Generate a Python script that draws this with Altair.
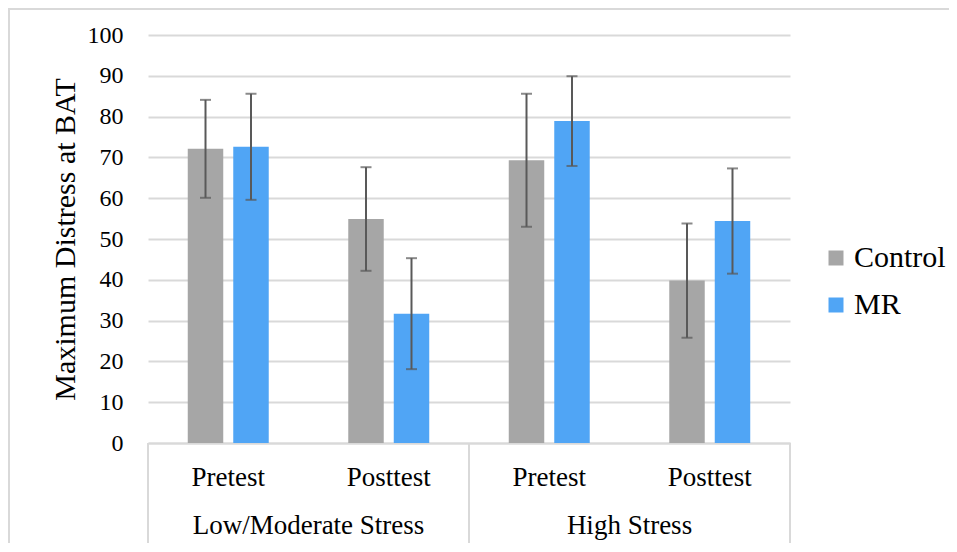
import altair as alt
import pandas as pd

groups = ["Low/Moderate Stress", "High Stress"]
times = ["Pretest", "Posttest"]
series = ["Control", "MR"]
control_mean = [72.1, 54.9, 69.3, 39.8]
mr_mean = [72.6, 31.7, 78.9, 54.4]
control_err = [12.0, 12.7, 16.3, 14.0]
mr_err = [13.0, 13.6, 11.0, 12.9]
y_ticks = list(range(0, 101, 10))

keys = [f"{g}|{t}" for g in groups for t in times]
rows = []
for name, means, errs in [("Control", control_mean, control_err), ("MR", mr_mean, mr_err)]:
    for k, m, e in zip(keys, means, errs):
        g, t = k.split("|")
        rows.append({"key": k, "group": g, "time": t, "series": name,
                     "mean": m, "lo": m - e, "hi": m + e})
df = pd.DataFrame(rows)

FONT = "Liberation Serif"
GRID = "#D9D9D9"
ERR = "#595959"
W, H = 642, 408
YTITLE = "Maximum Distress at BAT"

xscale = alt.Scale(domain=keys, paddingInner=0, paddingOuter=0)
offscale = alt.Scale(domain=series, paddingInner=0.22, paddingOuter=0.874)

x_enc = alt.X("key:N", scale=xscale, title=None,
              axis=alt.Axis(labelExpr="split(datum.label, '|')[1]",
                            labelFontSize=27, labelColor="black", labelPadding=21,
                            labelAngle=0, ticks=False, domainColor=GRID, domainWidth=2,
                            grid=False))
xoff = alt.XOffset("series:N", scale=offscale)
yscale = alt.Scale(domain=[0, 100], nice=False)

base = alt.Chart(df)

bars = base.mark_bar().encode(
    x=x_enc,
    xOffset=xoff,
    y=alt.Y("mean:Q", scale=yscale, title=YTITLE,
            axis=alt.Axis(values=y_ticks, grid=True, gridColor=GRID, gridWidth=2,
                          domain=False, ticks=False, tickSize=0, labelPadding=25,
                          labelFontSize=24, labelColor="black",
                          titleFontSize=30, titleFontWeight="normal",
                          titleColor="black", titleX=-68, titleY=H / 2)),
    color=alt.Color("series:N", scale=alt.Scale(domain=series, range=["#A6A6A6", "#50A5F5"]),
                    legend=alt.Legend(title=None, orient="none", legendX=673, legendY=208,
                                      symbolType="square", symbolSize=225,
                                      symbolStrokeWidth=0, labelFontSize=30,
                                      labelColor="black", rowPadding=17, labelOffset=3,
                                      labelLimit=0)),
)

err = base.mark_rule(color=ERR, strokeWidth=2).encode(
    x=alt.X("key:N", scale=xscale), xOffset=xoff,
    y=alt.Y("lo:Q", scale=yscale, title=YTITLE), y2="hi:Q")
cap_hi = base.mark_tick(color=ERR, thickness=2, size=11).encode(
    x=alt.X("key:N", scale=xscale), xOffset=xoff,
    y=alt.Y("hi:Q", scale=yscale, title=YTITLE))
cap_lo = base.mark_tick(color=ERR, thickness=2, size=11).encode(
    x=alt.X("key:N", scale=xscale), xOffset=xoff,
    y=alt.Y("lo:Q", scale=yscale, title=YTITLE))

first_keys = pd.DataFrame({"key": [f"{g}|{times[0]}" for g in groups]})
last_keys = pd.DataFrame({"key": [f"{groups[-1]}|{times[-1]}"]})
sep_start = alt.Chart(first_keys).mark_rule(color=GRID, strokeWidth=2).encode(
    x=alt.X("key:N", scale=xscale, bandPosition=0),
    y=alt.value(H), y2=alt.value(H + 100))
sep_end = alt.Chart(last_keys).mark_rule(color=GRID, strokeWidth=2).encode(
    x=alt.X("key:N", scale=xscale, bandPosition=1),
    y=alt.value(H), y2=alt.value(H + 100))

inner = alt.layer(bars, err, cap_hi, cap_lo, sep_start, sep_end)

group_text = alt.Chart(pd.DataFrame({"group": groups})).mark_text(
    font=FONT, fontSize=27, baseline="alphabetic", color="black").encode(
    x=alt.X("group:N", scale=alt.Scale(domain=groups, paddingInner=0, paddingOuter=0),
            axis=None),
    y=alt.value(499),
    text="group:N")

one = pd.DataFrame({"a": [0]})
border_left = alt.Chart(one).mark_rule(color=GRID, strokeWidth=2).encode(
    x=alt.value(-139), y=alt.value(-27), y2=alt.value(H + 100))
border_top = alt.Chart(one).mark_rule(color=GRID, strokeWidth=2).encode(
    x=alt.value(-139), x2=alt.value(W + 159), y=alt.value(-26))

chart = alt.layer(inner, group_text, border_left, border_top).resolve_scale(
    x="independent"
).properties(
    width=W, height=H,
    padding={"left": 140, "top": 27, "right": 159, "bottom": 100},
    autosize=alt.AutoSizeParams(type="none"),
).configure(
    font=FONT
).configure_axis(
    labelFont=FONT, titleFont=FONT
).configure_legend(
    labelFont=FONT
).configure_text(
    font=FONT
).configure_view(stroke=None)

chart.save("out.html", embed_options={"renderer": "svg", "actions": False})
